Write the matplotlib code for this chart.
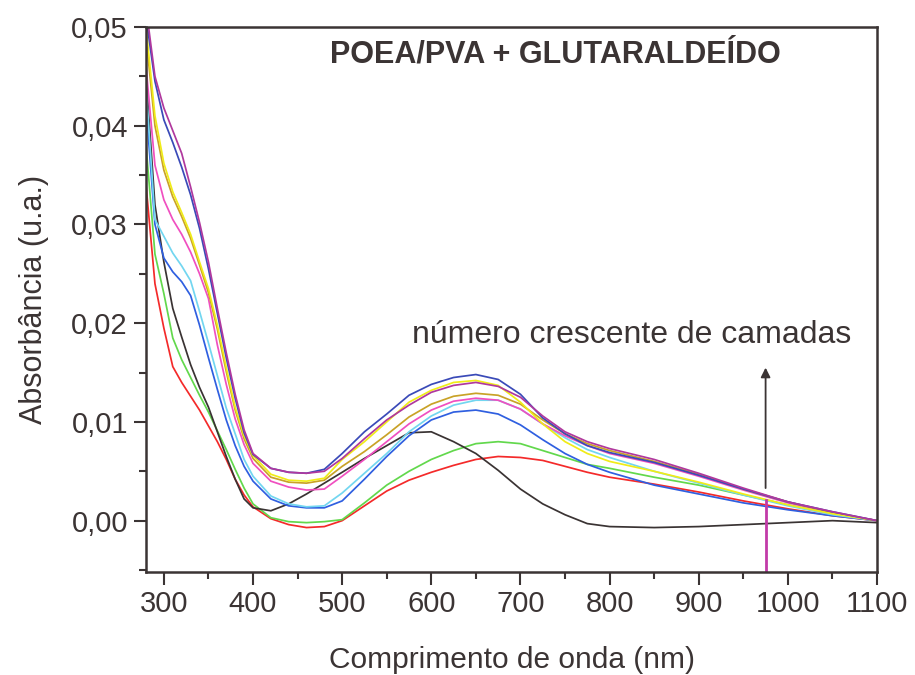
import matplotlib
matplotlib.use("Agg")
import matplotlib.pyplot as plt
from matplotlib.ticker import MultipleLocator

# ---------------- data ----------------
wavelength = [280, 290, 300, 310, 320, 330, 340, 350, 360, 370, 380, 390, 400,
              420, 440, 460, 480, 500, 525, 550, 575, 600, 625, 650, 675, 700,
              725, 750, 775, 800, 850, 900, 950, 1000, 1050, 1100]

abs_red = [0.034, 0.024, 0.0195, 0.0156, 0.0140, 0.0126, 0.0112, 0.0096, 0.0080, 0.0062, 0.0042, 0.0026, 0.0014,
           0.0002, -0.0004, -0.0007, -0.0006, 0.0000, 0.0015, 0.0030, 0.0041, 0.0049, 0.0056, 0.0062, 0.0065, 0.0064,
           0.0061, 0.0055, 0.0049, 0.0044, 0.0037, 0.0029, 0.0020, 0.0012, 0.0005, 0.0]
abs_green = [0.038, 0.027, 0.0230, 0.0185, 0.0163, 0.0145, 0.0127, 0.0110, 0.0091, 0.0072, 0.0052, 0.0033, 0.0017,
             0.0003, -0.0001, -0.0002, -0.0001, 0.0001, 0.0018, 0.0036, 0.0050, 0.0062, 0.0071, 0.0078, 0.0080, 0.0078,
             0.0071, 0.0064, 0.0057, 0.0053, 0.0044, 0.0036, 0.0026, 0.0016, 0.0007, 0.0]
abs_black = [0.045, 0.032, 0.0262, 0.0215, 0.0186, 0.0158, 0.0135, 0.0115, 0.0090, 0.0065, 0.0042, 0.0022, 0.0013,
             0.0010, 0.0017, 0.0027, 0.0038, 0.0049, 0.0063, 0.0076, 0.0089, 0.0090, 0.0080, 0.0068, 0.0051, 0.0032,
             0.0017, 0.0006, -0.0003, -0.0006, -0.0007, -0.0006, -0.0004, -0.0002, 0.0000, -0.0002]
abs_blue = [0.042, 0.030, 0.0266, 0.0252, 0.0242, 0.0228, 0.0198, 0.0165, 0.0133, 0.0102, 0.0076, 0.0055, 0.0040,
            0.0022, 0.0015, 0.0013, 0.0013, 0.0020, 0.0042, 0.0065, 0.0086, 0.0102, 0.0110, 0.0112, 0.0108, 0.0097,
            0.0082, 0.0068, 0.0057, 0.0049, 0.0036, 0.0027, 0.0018, 0.0011, 0.0005, 0.0]
abs_cyan = [0.044, 0.0305, 0.0288, 0.0271, 0.0258, 0.0243, 0.0212, 0.0180, 0.0147, 0.0114, 0.0088, 0.0062, 0.0045,
            0.0025, 0.0017, 0.0014, 0.0015, 0.0028, 0.0048, 0.0068, 0.0090, 0.0106, 0.0117, 0.0122, 0.0122, 0.0113,
            0.0098, 0.0084, 0.0072, 0.0064, 0.0050, 0.0038, 0.0026, 0.0015, 0.0006, 0.0]
abs_pink = [0.046, 0.036, 0.0325, 0.0305, 0.0290, 0.0272, 0.0250, 0.0225, 0.0178, 0.0138, 0.0103, 0.0077, 0.0058,
            0.0040, 0.0034, 0.0031, 0.0032, 0.0045, 0.0062, 0.0080, 0.0098, 0.0112, 0.0121, 0.0124, 0.0122, 0.0113,
            0.0098, 0.0086, 0.0076, 0.0068, 0.0058, 0.0045, 0.0031, 0.0018, 0.0008, 0.0]
abs_olive = [0.049, 0.040, 0.0355, 0.0328, 0.0308, 0.0286, 0.0259, 0.0231, 0.0194, 0.0151, 0.0112, 0.0083, 0.0063,
             0.0044, 0.0039, 0.0038, 0.0041, 0.0055, 0.0070, 0.0087, 0.0105, 0.0118, 0.0126, 0.0129, 0.0127, 0.0118,
             0.0102, 0.0088, 0.0078, 0.0071, 0.0060, 0.0047, 0.0032, 0.0019, 0.0008, 0.0]
abs_yellow = [0.050, 0.041, 0.0362, 0.0333, 0.0312, 0.0290, 0.0262, 0.0235, 0.0198, 0.0155, 0.0115, 0.0086, 0.0066,
              0.0047, 0.0041, 0.0040, 0.0043, 0.0062, 0.0080, 0.0100, 0.0120, 0.0132, 0.0140, 0.0142, 0.0137, 0.0120,
              0.0098, 0.0080, 0.0068, 0.0060, 0.0050, 0.0039, 0.0027, 0.0016, 0.0007, 0.0]
abs_darkblue = [0.051, 0.0445, 0.0406, 0.0383, 0.0358, 0.0330, 0.0296, 0.0255, 0.0210, 0.0165, 0.0124, 0.0089, 0.0067,
                0.0053, 0.0049, 0.0048, 0.0052, 0.0068, 0.0090, 0.0108, 0.0127, 0.0138, 0.0145, 0.0148, 0.0143, 0.0128,
                0.0104, 0.0088, 0.0076, 0.0069, 0.0059, 0.0046, 0.0032, 0.0019, 0.0009, 0.0]
abs_purple = [0.052, 0.0450, 0.0418, 0.0395, 0.0372, 0.0338, 0.0302, 0.0262, 0.0215, 0.0170, 0.0128, 0.0092, 0.0068,
              0.0053, 0.0049, 0.0048, 0.0050, 0.0063, 0.0083, 0.0102, 0.0117, 0.0130, 0.0137, 0.0140, 0.0136, 0.0125,
              0.0106, 0.0090, 0.0080, 0.0073, 0.0062, 0.0048, 0.0033, 0.0019, 0.0009, 0.0]

series = [
    (abs_red, "#f42a2a"),
    (abs_green, "#62d84c"),
    (abs_black, "#3a3333"),
    (abs_blue, "#2f5fe0"),
    (abs_cyan, "#72d6f0"),
    (abs_pink, "#f04fc0"),
    (abs_olive, "#c9a227"),
    (abs_yellow, "#f0ec18"),
    (abs_darkblue, "#3a4ab8"),
    (abs_purple, "#b0389e"),
]

x_ticks = [300, 400, 500, 600, 700, 800, 900, 1000, 1100]
x_tick_labels = ["300", "400", "500", "600", "700", "800", "900", "1000", "1100"]
y_ticks = [0.00, 0.01, 0.02, 0.03, 0.04, 0.05]
y_tick_labels = ["0,00", "0,01", "0,02", "0,03", "0,04", "0,05"]

spike_nm = 975
spike_top = 0.0021
arrow_start = 0.0033
arrow_end = 0.0155

title = "POEA/PVA + GLUTARALDEÍDO"
annotation = "número crescente de camadas"
xlabel = "Comprimento de onda (nm)"
ylabel = "Absorbância (u.a.)"

# ---------------- plot ----------------
plt.rcParams['font.family'] = ['Liberation Sans', 'DejaVu Sans']
ink = "#3b3434"

fig = plt.figure(figsize=(9.15, 6.75), dpi=100)
ax = fig.add_axes([0.1596, 0.1526, 0.7989, 0.8074])

for vals, col in series:
    ax.plot(wavelength, vals, color=col, lw=1.25)

ax.set_xlim(280, 1100)
ax.set_ylim(-0.0052, 0.05)

# spike artifact (magenta) and arrow
ax.plot([spike_nm, spike_nm], [-0.0052, spike_top], color="#c23aa8", lw=2.0)
ax.annotate("", xy=(spike_nm, arrow_end), xytext=(spike_nm, arrow_start),
            arrowprops=dict(arrowstyle="-|>", color=ink, lw=1.3,
                            mutation_scale=14, shrinkA=0, shrinkB=0))

ax.text(0.56, 0.949, title, transform=ax.transAxes, ha="center", va="center",
        fontsize=22, fontweight="bold", color=ink)
ax.text(825, 0.0188, annotation, ha="center", va="center", fontsize=23, color=ink)

ax.set_xticks(x_ticks)
ax.set_xticklabels(x_tick_labels)
ax.set_yticks(y_ticks)
ax.set_yticklabels(y_tick_labels)
ax.xaxis.set_minor_locator(MultipleLocator(50))
ax.yaxis.set_minor_locator(MultipleLocator(0.005))

ax.tick_params(which="major", direction="out", length=9, width=1.5, colors=ink,
               labelsize=21, labelcolor=ink, pad=4)
ax.tick_params(which="minor", direction="out", length=5, width=1.5, colors=ink)

for sp in ax.spines.values():
    sp.set_color(ink)
    sp.set_linewidth(1.8)

ax.set_xlabel(xlabel, fontsize=21.5, color=ink, labelpad=20)
ax.set_ylabel(ylabel, fontsize=22, color=ink, labelpad=16)

fig.savefig("out.png", dpi=100, facecolor="white")
